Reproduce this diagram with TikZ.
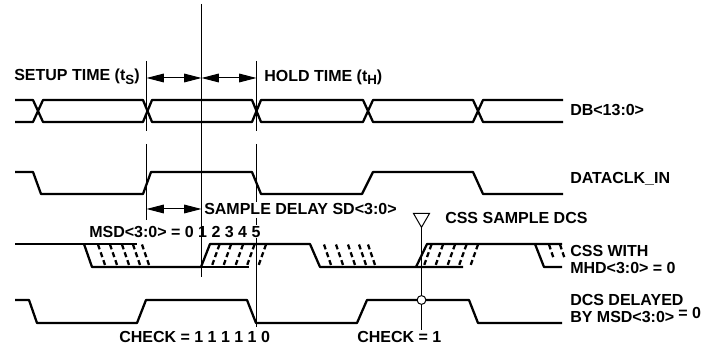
\documentclass[tikz,border=0pt]{standalone}
\usepackage{fontspec}
\setmainfont{Liberation Sans}
\usepackage{tikz}
\usetikzlibrary{shapes.geometric, arrows.meta, positioning}
\newcommand{\lowtag}[1]{\raisebox{-2.6pt}{\fontsize{10pt}{10pt}\selectfont #1}}

\begin{document}
\begin{tikzpicture}[
    x=0.75pt, y=-0.75pt,
    signal/.style={line width=1.7pt, line join=round},
    marker/.style={line width=0.75pt},
    hatch/.style={line width=1.7pt, dash pattern=on 3.8pt off 2.4pt},
    span/.style={marker, {Triangle[length=13pt,width=6.5pt]}-{Triangle[length=13pt,width=6.5pt]}},
    tag/.style={font=\bfseries\fontsize{12pt}{12.75pt}\selectfont, anchor=west, inner sep=0pt, align=left}
  ]
    \useasboundingbox (0,0) rectangle (709,348);
    % markers
    \draw[marker] (146.5,61) -- (146.5,131);
    \draw[marker] (146.5,144) -- (146.5,220);
    \draw[marker] (201.5,4) -- (201.5,277);
    \draw[marker] (256.5,61) -- (256.5,131);
    \draw[marker] (256.5,144) -- (256.5,202);
    \draw[marker] (256.5,218) -- (256.5,225);
    \draw[marker] (256.5,238) -- (256.5,327);
    \draw[marker] (421.5,227) -- (421.5,330);
    % DB
    \draw[signal] (15,100) -- (33,100) -- (43,122) -- (143,122) -- (152,100) -- (252,100) -- (261,122)
      -- (363,122) -- (373,100) -- (473,100) -- (483,122) -- (563,122);
    \draw[signal] (15,122) -- (33,122) -- (43,100) -- (143,100) -- (152,122) -- (252,122) -- (261,100)
      -- (363,100) -- (373,122) -- (473,122) -- (483,100) -- (563,100);
    % DATACLK_IN
    \draw[signal] (15,172) -- (33,172) -- (41,194) -- (143,194) -- (151,172) -- (252,172) -- (261,194)
      -- (362,194) -- (373,172) -- (473,172) -- (483,194) -- (563,194);
    % CSS
    \draw[signal] (15,244) -- (137,244);
    \draw[signal] (84,244) -- (92,267) -- (201,267) -- (210,244) -- (310,244) -- (320,267) -- (463,267);
    \draw[signal] (201,267) -- (249,267);
    \draw[signal] (416,267) -- (427,244) -- (562,244);
    \draw[signal] (535,244) -- (544,267) -- (562,267);
    \foreach \x in {98,110,122,133,142,324,336,348,359,368} {
      \draw[hatch] (\x,244.5) -- ++(7.7,22.5);
    }
    \foreach \x in {549,560} {
      \draw[hatch] (\x,244.5) -- ++(5,15);
    }
    \foreach \x in {219.5,231,243,254.5,266,431.5,443,455,466.5,478} {
      \draw[hatch] (\x,244.5) -- ++(-8,22.5);
    }
    % DCS
    \draw[signal] (15,300) -- (29,300) -- (37,323) -- (137,323) -- (146,300) -- (247,300) -- (256,323)
      -- (357,323) -- (367,300) -- (469,300) -- (478,323) -- (562,323);
    % sample point
    \node[draw, marker, fill=white, circle, inner sep=0pt, minimum size=6.6pt] (check) at (421.5,300) {};
    \node[draw, marker, fill=white, regular polygon, regular polygon sides=3, shape border rotate=180,
      inner sep=0pt, minimum size=14pt] (css) at (421.5,218) {};
    % spans
    \draw[span] (146.5,78) -- (201.5,78);
    \draw[span] (201.5,78) -- (256.5,78);
    \draw[span] (146.5,209) -- (201.5,209);
    % labels
    \node[tag] (setup) at (14,77) {SETUP TIME (t\lowtag{S})};
    \node[tag] (hold) at (264,77) {HOLD TIME (t\lowtag{H})};
    \node[tag] (db) at (570,110) {DB<13:0>};
    \node[tag] (clk) at (570,179) {DATACLK\_IN};
    \node[tag] (delay) at (204,209) {SAMPLE DELAY SD<3:0>};
    \node[tag] (msd) at (89,232.5) {MSD<3:0> = 0 1 2 3 4 5};
    \node[tag] (cssdcs) at (445,218) {CSS SAMPLE DCS};
    \node[tag] (csswith) at (570,260) {CSS WITH\\MHD<3:0> = 0};
    \node[tag] (dcs) at (570,308.5) {DCS DELAYED\\BY MSD<3:0>};
    \node[tag] (dcszero) at (678,313) {= 0};
    \node[tag] (check0) at (119,337) {CHECK = 1 1 1 1 1 0};
    \node[tag] (check1) at (357,337) {CHECK = 1};
  \end{tikzpicture}
\end{document}
